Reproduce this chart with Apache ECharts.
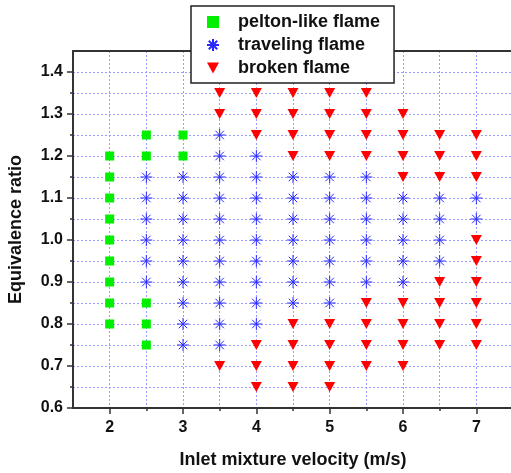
<!DOCTYPE html>
<html>
<head>
<meta charset="utf-8">
<script src="https://cdn.jsdelivr.net/npm/echarts@6/dist/echarts.min.js"></script>
<style>
html,body{margin:0;padding:0;background:#fff;}
#c{width:511px;height:473px;}
</style>
</head>
<body>
<div id="c"></div>
<script>
// ---- data ----
const xTickLabels = [2, 3, 4, 5, 6, 7];
const yTickLabels = [0.6, 0.7, 0.8, 0.9, 1.0, 1.1, 1.2, 1.3, 1.4];
const seriesNames = ['pelton-like flame', 'traveling flame', 'broken flame'];

const peltonPoints = [
  [2, 0.80], [2, 0.85], [2, 0.90], [2, 0.95], [2, 1.00], [2, 1.05], [2, 1.10], [2, 1.15], [2, 1.20],
  [2.5, 0.75], [2.5, 0.80], [2.5, 0.85], [2.5, 1.20], [2.5, 1.25],
  [3, 1.20], [3, 1.25]
];

const travelingPoints = [
  [2.5, 0.90], [2.5, 0.95], [2.5, 1.00], [2.5, 1.05], [2.5, 1.10], [2.5, 1.15],
  [3, 0.75], [3, 0.80], [3, 0.85], [3, 0.90], [3, 0.95], [3, 1.00], [3, 1.05], [3, 1.10], [3, 1.15],
  [3.5, 0.75], [3.5, 0.80], [3.5, 0.85], [3.5, 0.90], [3.5, 0.95], [3.5, 1.00], [3.5, 1.05], [3.5, 1.10], [3.5, 1.15], [3.5, 1.20], [3.5, 1.25],
  [4, 0.80], [4, 0.85], [4, 0.90], [4, 0.95], [4, 1.00], [4, 1.05], [4, 1.10], [4, 1.15], [4, 1.20],
  [4.5, 0.85], [4.5, 0.90], [4.5, 0.95], [4.5, 1.00], [4.5, 1.05], [4.5, 1.10], [4.5, 1.15],
  [5, 0.85], [5, 0.90], [5, 0.95], [5, 1.00], [5, 1.05], [5, 1.10], [5, 1.15],
  [5.5, 0.90], [5.5, 0.95], [5.5, 1.00], [5.5, 1.05], [5.5, 1.10], [5.5, 1.15],
  [6, 0.90], [6, 0.95], [6, 1.00], [6, 1.05], [6, 1.10],
  [6.5, 0.95], [6.5, 1.00], [6.5, 1.05], [6.5, 1.10],
  [7, 1.05], [7, 1.10]
];

const brokenPoints = [
  [3.5, 0.70], [3.5, 1.30], [3.5, 1.35],
  [4, 0.65], [4, 0.70], [4, 0.75], [4, 1.25], [4, 1.30], [4, 1.35],
  [4.5, 0.65], [4.5, 0.70], [4.5, 0.75], [4.5, 0.80], [4.5, 1.20], [4.5, 1.25], [4.5, 1.30], [4.5, 1.35],
  [5, 0.65], [5, 0.70], [5, 0.75], [5, 0.80], [5, 1.20], [5, 1.25], [5, 1.30], [5, 1.35],
  [5.5, 0.70], [5.5, 0.75], [5.5, 0.80], [5.5, 0.85], [5.5, 1.20], [5.5, 1.25], [5.5, 1.30], [5.5, 1.35],
  [6, 0.70], [6, 0.75], [6, 0.80], [6, 0.85], [6, 1.15], [6, 1.20], [6, 1.25], [6, 1.30],
  [6.5, 0.75], [6.5, 0.80], [6.5, 0.85], [6.5, 0.90], [6.5, 1.15], [6.5, 1.20], [6.5, 1.25],
  [7, 0.75], [7, 0.80], [7, 0.85], [7, 0.90], [7, 0.95], [7, 1.00], [7, 1.15], [7, 1.20], [7, 1.25]
];

// ---- chart ----
const FONT = '"Liberation Sans", Arial, Helvetica, sans-serif';
const AXIS_COLOR = '#333333';
const GRID_COLOR = '#9a9cff';
const STAR = 'path://M0,-10L0,10M-10,0L10,0M-7.07,-7.07L7.07,7.07M-7.07,7.07L7.07,-7.07';
const DOWN_TRI = 'path://M0,0L12,0L6,11Z';

const chart = echarts.init(document.getElementById('c'), null, {renderer: 'canvas'});

const labelStyle = {color: '#111', fontFamily: FONT, fontWeight: 'bold', fontSize: 16};

const option = {
  animation: false,
  backgroundColor: '#ffffff',
  grid: {
    left: 73, top: 51, right: -2, bottom: 65,
    outerBoundsMode: 'none',
    containLabel: false,
    show: false
  },
  legend: {
    orient: 'vertical',
    left: 191, top: 6,
    padding: [6, 14, 5, 15],
    itemGap: 3,
    itemWidth: 12, itemHeight: 12,
    backgroundColor: '#ffffff',
    borderColor: '#222', borderWidth: 1.5,
    z: 10,
    data: [
      {name: seriesNames[0]},
      {name: seriesNames[1]},
      {name: seriesNames[2], icon: DOWN_TRI}
    ],
    textStyle: {color: '#111', fontFamily: FONT, fontWeight: 'bold', fontSize: 18, lineHeight: 20, padding: [0, 0, 0, 14]}
  },
  xAxis: [
    {
      type: 'value', position: 'bottom', min: 1.5, max: 7.5, interval: 0.5,
      name: 'Inlet mixture velocity (m/s)', nameLocation: 'middle', nameGap: 43,
      nameTextStyle: {color: '#111', fontFamily: FONT, fontWeight: 'bold', fontSize: 18},
      axisLine: {show: true, onZero: false, lineStyle: {color: AXIS_COLOR, width: 2}},
      axisTick: {show: true, inside: false, length: 3, lineStyle: {color: AXIS_COLOR, width: 1.5}},
      axisLabel: Object.assign({margin: 12, showMaxLabel: false, showMinLabel: false,
        formatter: v => (xTickLabels.indexOf(Math.round(v * 100) / 100) >= 0 ? String(Math.round(v)) : '')}, labelStyle),
      splitLine: {show: true, lineStyle: {color: GRID_COLOR, type: [2, 2], width: 1}}
    },
    {
      type: 'value', position: 'bottom', min: 1.5, max: 7.5,
      axisLine: {show: false},
      axisTick: {show: true, inside: false, length: 6, customValues: xTickLabels, lineStyle: {color: AXIS_COLOR, width: 1.5}},
      axisLabel: {show: false},
      splitLine: {show: false}
    },
    {
      type: 'value', position: 'top', min: 1.5, max: 7.5,
      axisLine: {show: true, onZero: false, lineStyle: {color: AXIS_COLOR, width: 2}},
      axisTick: {show: false},
      axisLabel: {show: false},
      splitLine: {show: false}
    }
  ],
  yAxis: [
    {
      type: 'value', position: 'left', min: 0.6, max: 1.45, interval: 0.05,
      name: 'Equivalence ratio', nameLocation: 'middle', nameGap: 48,
      nameTextStyle: {color: '#111', fontFamily: FONT, fontWeight: 'bold', fontSize: 18},
      axisLine: {show: true, onZero: false, lineStyle: {color: AXIS_COLOR, width: 2}},
      axisTick: {show: true, inside: false, length: 3, lineStyle: {color: AXIS_COLOR, width: 1.5}},
      axisLabel: Object.assign({margin: 10, showMaxLabel: false,
        formatter: v => {
          const r = Math.round(v * 100) / 100;
          return yTickLabels.some(t => Math.abs(t - r) < 1e-6) ? r.toFixed(1) : '';
        }}, labelStyle),
      splitLine: {show: true, showMaxLine: false, lineStyle: {color: GRID_COLOR, type: [2, 2], width: 1}}
    },
    {
      type: 'value', position: 'left', min: 0.6, max: 1.45,
      axisLine: {show: false},
      axisTick: {show: true, inside: false, length: 6, customValues: yTickLabels, lineStyle: {color: AXIS_COLOR, width: 1.5}},
      axisLabel: {show: false},
      splitLine: {show: false}
    }
  ],
  series: [
    {
      name: seriesNames[0], type: 'scatter', xAxisIndex: 0, yAxisIndex: 0,
      symbol: 'rect', symbolSize: 9,
      itemStyle: {color: '#00f000', opacity: 1},
      data: peltonPoints
    },
    {
      name: seriesNames[1], type: 'scatter', xAxisIndex: 0, yAxisIndex: 0,
      symbol: STAR, symbolSize: 12,
      itemStyle: {color: '#2a2aff', borderColor: '#2a2aff', borderWidth: 1, opacity: 1},
      data: travelingPoints
    },
    {
      name: seriesNames[2], type: 'scatter', xAxisIndex: 0, yAxisIndex: 0,
      symbol: 'triangle', symbolSize: [11, 10], symbolRotate: 180,
      itemStyle: {color: '#ff0000', opacity: 1},
      data: brokenPoints
    }
  ]
};

chart.setOption(option);
</script>
</body>
</html>
